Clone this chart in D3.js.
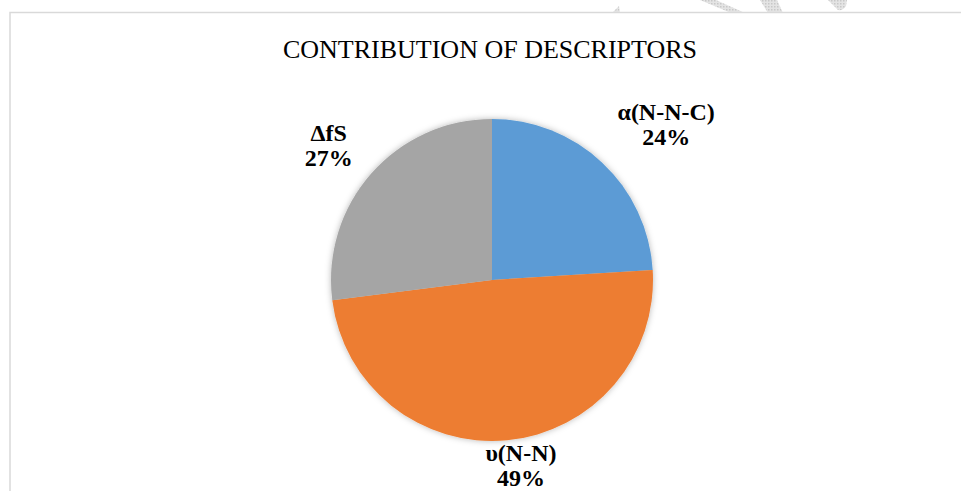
<!DOCTYPE html>
<html>
<head>
<meta charset="utf-8">
<script src="https://cdn.jsdelivr.net/npm/d3@7"></script>
<style>
  body { margin: 0; background: #fff; }
  svg { display: block; }
</style>
</head>
<body>
<div class="chart"></div>
<script>
// data
var labels = ["α(N-N-C)", "υ(N-N)", "ΔfS"];
var values = [24, 49, 27];
var colors = ["#5B9BD5", "#ED7D31", "#A5A5A5"];
var title = "CONTRIBUTION OF DESCRIPTORS";

var svgWidth = 961;
var svgHeight = 491;

var cx = 492, cy = 280, radius = 161;
var serif = "'Liberation Serif', 'Times New Roman', serif";

var svg = d3.select(".chart")
    .append("svg")
    .attr("width", svgWidth)
    .attr("height", svgHeight);

var defs = svg.append("defs");

// hatched watermark pattern
var pat = defs.append("pattern")
    .attr("id", "hatch")
    .attr("width", 3).attr("height", 3)
    .attr("patternUnits", "userSpaceOnUse");
pat.append("rect").attr("width", 3).attr("height", 3).attr("fill", "#e4e4e4");
pat.append("rect").attr("width", 1.5).attr("height", 1.5).attr("fill", "#c8c8c8");

var shadow = defs.append("filter")
    .attr("id", "shadow")
    .attr("x", "-20%").attr("y", "-20%")
    .attr("width", "140%").attr("height", "140%");
shadow.append("feDropShadow")
    .attr("dx", 0).attr("dy", 0)
    .attr("stdDeviation", 3)
    .attr("flood-color", "#000")
    .attr("flood-opacity", 0.28);

// faint watermark strokes peeking above the chart box
var wm = svg.append("g").attr("fill", "url(#hatch)");
[[700, 716, 745, 731], [760, 777, 783, 768]].forEach(function (p) {
    wm.append("path")
        .attr("d", `M${p[0]},0 L${p[1]},0 L${p[2]},13 L${p[3]},13 Z`);
});
wm.append("path").attr("d", "M828,0 L847,0 L846,6 Q843,11 838,10 Z");
wm.append("path").attr("d", "M612,13 L619,6 L620,13 Z");

// chart area border (Excel chart frame)
svg.append("rect")
    .attr("x", 10)
    .attr("y", 12.5)
    .attr("width", 1000)
    .attr("height", 600)
    .attr("fill", "#fff")
    .attr("stroke", "#d9d9d9")
    .attr("stroke-width", 1.5);

// title
svg.append("text")
    .attr("x", 490)
    .attr("y", 58)
    .attr("text-anchor", "middle")
    .style("font-family", serif)
    .style("font-size", "26px")
    .attr("fill", "#000")
    .text(title);

var pie = d3.pie().sort(null).value(d => d)
    .startAngle(0).endAngle(2 * Math.PI);
var arcs = pie(values);

var arc = d3.arc().innerRadius(0).outerRadius(radius);

svg.append("g")
    .attr("transform", `translate(${cx}, ${cy})`)
    .attr("filter", "url(#shadow)")
    .selectAll("path")
    .data(arcs)
    .enter()
    .append("path")
    .attr("d", arc)
    .attr("fill", (d, i) => colors[i]);

// labels sit just outside the slice edge ("best fit" style)
var labelLayout = [{ r: 234, da: 4.9 }, { r: 187, da: -3.5 }, { r: 212, da: -1.8 }];

function labelPos(d, i) {
    var a = (d.startAngle + d.endAngle) / 2 + labelLayout[i].da * Math.PI / 180;
    var r = labelLayout[i].r;
    return [cx + r * Math.sin(a), cy - r * Math.cos(a)];
}

arcs.forEach(function (d, i) {
    var p = labelPos(d, i);
    var t = svg.append("text")
        .attr("text-anchor", "middle")
        .style("font-family", serif)
        .style("font-size", "24px")
        .style("font-weight", "bold")
        .attr("fill", "#000");
    t.append("tspan")
        .attr("x", p[0])
        .attr("y", p[1] - 4)
        .text(labels[i]);
    t.append("tspan")
        .attr("x", p[0])
        .attr("y", p[1] + 21)
        .text(d3.format(".0f")(d.value) + "%");
});
</script>
</body>
</html>
